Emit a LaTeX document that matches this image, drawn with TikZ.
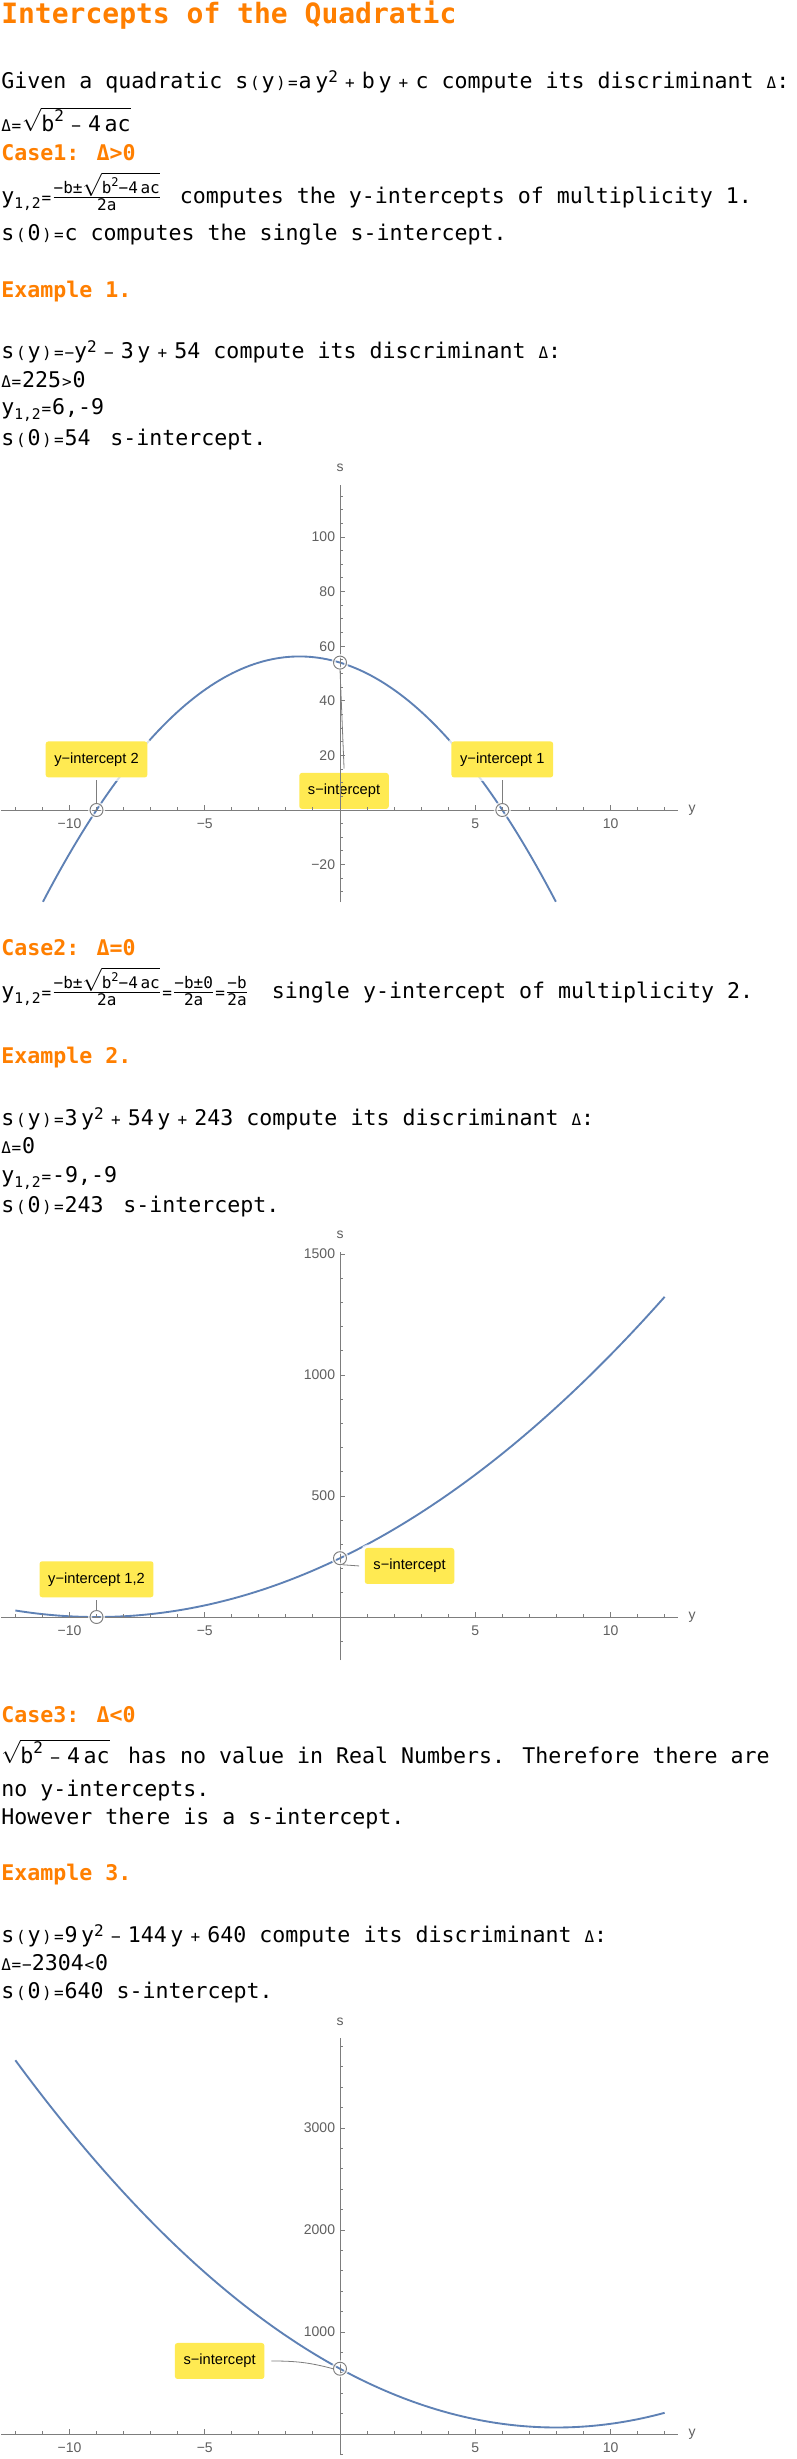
\documentclass[tikz,border=0pt]{standalone}
\usepackage{fontspec}
\usetikzlibrary{positioning}
\newfontfamily\codefont{DejaVu Sans Mono}
\newfontfamily\plotfont{Liberation Sans}
\definecolor{headorange}{RGB}{255,127,0}
\definecolor{calloutyellow}{RGB}{255,234,82}
\definecolor{curveblue}{RGB}{94,129,181}
\definecolor{axisgray}{RGB}{125,125,125}
\definecolor{tickgray}{RGB}{95,95,95}

\newcommand\smop[1]{{\fontsize{12}{12}\selectfont #1}}
\newcommand\opL{\makebox[10pt]{\smop{(}}}
\newcommand\opR{\makebox[9.5pt]{\smop{)}}}
\newcommand\opEq{\makebox[8.5pt]{\smop{=}}}
\newcommand\opGt{\makebox[8.5pt]{\smop{>}}}
\newcommand\opLt{\makebox[8.5pt]{\smop{<}}}
\newcommand\opPlus{\makebox[18pt]{\smop{+}}}
\newcommand\opMinus{\makebox[18pt]{\smop{−}}}
\newcommand\opD{\smop{Δ}}
\newcommand\supY{\raisebox{4pt}{\smop{2}}}
\newcommand\supB{\raisebox{7pt}{\smop{2}}}
\newcommand\subYY{\raisebox{-4pt}{\fontsize{11}{11}\selectfont 1,2}}
\newcommand\fracsize{\fontsize{12}{12}\selectfont}
\newcommand\rootnum{\hbox{\fracsize −b±}\sqrt{\hbox{\fracsize b\raisebox{5pt}{\fontsize{9}{9}\selectfont 2}−4\,ac}}}
\newcommand\overtwoa[1]{${#1\over\hbox{\fracsize 2a}}$}

\begin{document}
\begin{tikzpicture}[x=0.75pt, y=-0.75pt,
	txt/.style={anchor=base west, inner sep=0, font=\codefont\fontsize{16.2}{19}\selectfont},
	head/.style={txt, font=\codefont\bfseries\fontsize{16.2}{19}\selectfont, text=headorange},
	axisline/.style={draw=axisgray, line width=0.7pt},
	ticklabel/.style={font=\plotfont\fontsize{10.5}{12}\selectfont, text=tickgray, inner sep=0},
	axislabel/.style={ticklabel},
	curve/.style={draw=curveblue, line width=1.4pt},
	callout/.style={fill=calloutyellow, rounded corners=2pt, minimum height=27pt, inner xsep=6.5pt, inner ysep=0pt, font=\plotfont\fontsize{11}{13}\selectfont,
		preaction={draw=white, draw opacity=0.75, line width=5pt}},
	ipoint/.style={circle, draw=axisgray, line width=0.7pt, minimum size=9.75pt, inner sep=0,
		preaction={draw=white, draw opacity=0.75, line width=3pt}},
	leader/.style={draw=axisgray, line width=0.6pt}]
	\fill[white] (0,0) rectangle (796,2459);
	\useasboundingbox (0,0) rectangle (796,2459);

	\node[txt, font=\codefont\bfseries\fontsize{21}{25}\selectfont, text=headorange] (title) at (1,23) {Intercepts of the Quadratic};
	\node[txt] (t1) at (1,88) {Given a quadratic s\opL y\opR\opEq a\,y\supY\opPlus b\,y\opPlus c compute its discriminant \opD:};
	\node[txt] (t2) at (1,131) {\opD\opEq$\sqrt{\hbox{b\supB\opMinus 4\,ac}}$};
	\node[head] (case1) at (1,160) {Case1: Δ>0};
	\node[txt] (t3) at (1,203) {y\subYY\opEq\overtwoa{\rootnum}\hspace{4pt} computes the y-intercepts of multiplicity 1.};
	\node[txt] (t4) at (1,240) {s\opL 0\opR\opEq c computes the single s-intercept.};
	\node[head] (ex1) at (1,297) {Example 1.};
	\node[txt] (t5) at (1,358) {s\opL y\opR\opEq\smop{−}y\supY\opMinus 3\,y\opPlus 54 compute its discriminant \opD:};
	\node[txt] (t6) at (1,387) {\opD\opEq 225\opGt 0};
	\node[txt] (t7) at (1,414) {y\subYY\opEq 6,-9};
	\node[txt] (t8) at (1,445) {s\opL 0\opR\opEq 54\hspace{5pt} s-intercept.};

	\node[head] (case2) at (1,955) {Case2: Δ=0};
	\node[txt] (t9) at (1,998) {y\subYY\opEq\overtwoa{\rootnum}\opEq\overtwoa{\hbox{\fracsize −b±0}}\opEq\overtwoa{\hbox{\fracsize −b}}\hspace{8pt} single y-intercept of multiplicity 2.};
	\node[head] (ex2) at (1,1063) {Example 2.};
	\node[txt] (t10) at (1,1125) {s\opL y\opR\opEq 3\,y\supY\opPlus 54\,y\opPlus 243 compute its discriminant \opD:};
	\node[txt] (t11) at (1,1153) {\opD\opEq 0};
	\node[txt] (t12) at (1,1182) {y\subYY\opEq -9,-9};
	\node[txt] (t13) at (1,1212) {s\opL 0\opR\opEq 243\hspace{5pt} s-intercept.};

	\node[head] (case3) at (1,1722) {Case3: Δ<0};
	\node[txt] (t14) at (1,1763) {$\sqrt{\hbox{b\supB\opMinus 4\,ac}}$\hspace{4pt} has no value in Real Numbers. Therefore there are};
	\node[txt] (t15) at (1,1796) {no y-intercepts.};
	\node[txt] (t16) at (1,1824) {However there is a s-intercept.};
	\node[head] (ex3) at (1,1880) {Example 3.};
	\node[txt] (t17) at (1,1942) {s\opL y\opR\opEq 9\,y\supY\opMinus 144\,y\opPlus 640 compute its discriminant \opD:};
	\node[txt] (t18) at (1,1970) {\opD\opEq\smop{−}2304\opLt 0};
	\node[txt] (t19) at (1,1998) {s\opL 0\opR\opEq 640 s-intercept.};

	\begin{scope}[shift={(340,810)}, x=20.29pt, y=2.0475pt]
	\draw[curve] plot[domain=-10.98:7.98, samples=120] (\x,{-(\x)*(\x)-3*(\x)+54});
	\node[callout] (b1s) at (0.15,7) {s−intercept};
	\draw[axisline] (-12.53,0) -- (12.5,0);
	\draw[axisline] (0,-33.7) -- (0,119);
	\foreach \t in {-12,...,12} \draw[axisline] (\t,0) -- ++(0pt,2.2pt);
	\foreach \t/\l in {-10/−10,-5/−5,5/5,10/10} {
		\draw[axisline] (\t,0) -- ++(0pt,3.5pt);
		\node[ticklabel, yshift=-10.5pt] at (\t,0) {\l};
	}
	\foreach \s in {-30,-25,...,115} \draw[axisline] (0,\s) -- ++(2.2pt,0pt);
	\foreach \s/\l in {-20/−20,20/20,40/40,60/60,80/80,100/100} {
		\draw[axisline] (0,\s) -- ++(3.5pt,0pt);
		\node[ticklabel, anchor=east, xshift=-3.5pt] at (0,\s) {\l};
	}
	\node[axislabel, yshift=12.75pt] at (0,119) {s};
	\node[axislabel, xshift=10.5pt] at (12.5,0) {y};
	\node[ipoint] (p1a) at (6,0) {};
	\node[ipoint] (p1b) at (-9,0) {};
	\node[ipoint] (p1s) at (0,54) {};
	\node[callout, above=19pt of p1a] (b1a) {y−intercept 1};
	\node[callout, above=19pt of p1b] (b1b) {y−intercept 2};
	\draw[leader] ([yshift=-2pt]b1a.south) -- (p1a.north);
	\draw[leader] ([yshift=-2pt]b1b.south) -- (p1b.north);
	\draw[leader] (p1s.south) -- ([yshift=3pt]b1s.north);
	\end{scope}

	\begin{scope}[shift={(340,1617)}, x=20.29pt, y=0.1815pt]
	\draw[curve] plot[domain=-12:12, samples=120] (\x,{3*(\x+9)*(\x+9)});
	\node[callout] (b2s) at (2.57,211) {s−intercept};
	\draw[axisline] (-12.53,0) -- (12.5,0);
	\draw[axisline] (0,-178) -- (0,1510);
	\foreach \t in {-12,...,12} \draw[axisline] (\t,0) -- ++(0pt,2.2pt);
	\foreach \t/\l in {-10/−10,-5/−5,5/5,10/10} {
		\draw[axisline] (\t,0) -- ++(0pt,3.5pt);
		\node[ticklabel, yshift=-10.5pt] at (\t,0) {\l};
	}
	\foreach \s in {-100,0,...,1500} \draw[axisline] (0,\s) -- ++(2.2pt,0pt);
	\foreach \s in {500,1000,1500} {
		\draw[axisline] (0,\s) -- ++(3.5pt,0pt);
		\node[ticklabel, anchor=east, xshift=-3.5pt] at (0,\s) {\s};
	}
	\node[axislabel, yshift=12.75pt] at (0,1510) {s};
	\node[axislabel, xshift=10.5pt] at (12.5,0) {y};
	\node[ipoint] (p2y) at (-9,0) {};
	\node[ipoint] (p2s) at (0,243) {};
	\node[callout, above=9.4pt of p2y] (b2y) {y−intercept 1,2};
	\draw[leader] ([yshift=-2pt]b2y.south) -- (p2y.north);
	\draw[leader] (p2s.-70) -- ([xshift=-4pt]b2s.west);
	\end{scope}

	\begin{scope}[shift={(340,2434)}, x=20.29pt, y=0.0765pt]
	\draw[curve] plot[domain=-12:12, samples=120] (\x,{9*(\x)*(\x)-144*(\x)+640});
	\node[callout] (b3s) at (-4.45,716) {s−intercept};
	\draw[axisline] (-12.53,0) -- (12.5,0);
	\draw[axisline] (0,-206) -- (0,3880);
	\foreach \t in {-12,...,12} \draw[axisline] (\t,0) -- ++(0pt,2.2pt);
	\foreach \t/\l in {-10/−10,-5/−5,5/5,10/10} {
		\draw[axisline] (\t,0) -- ++(0pt,3.5pt);
		\node[ticklabel, yshift=-10.5pt] at (\t,0) {\l};
	}
	\foreach \s in {-200,0,...,3800} \draw[axisline] (0,\s) -- ++(2.2pt,0pt);
	\foreach \s in {1000,2000,3000} {
		\draw[axisline] (0,\s) -- ++(3.5pt,0pt);
		\node[ticklabel, anchor=east, xshift=-3.5pt] at (0,\s) {\s};
	}
	\node[axislabel, yshift=12pt] at (0,3880) {s};
	\node[axislabel, xshift=10.5pt] at (12.5,0) {y};
	\node[ipoint] (p3s) at (0,640) {};
	\draw[leader] ([xshift=5pt]b3s.east) to[out=0, in=165] (p3s.west);
	\end{scope}
\end{tikzpicture}
\end{document}
